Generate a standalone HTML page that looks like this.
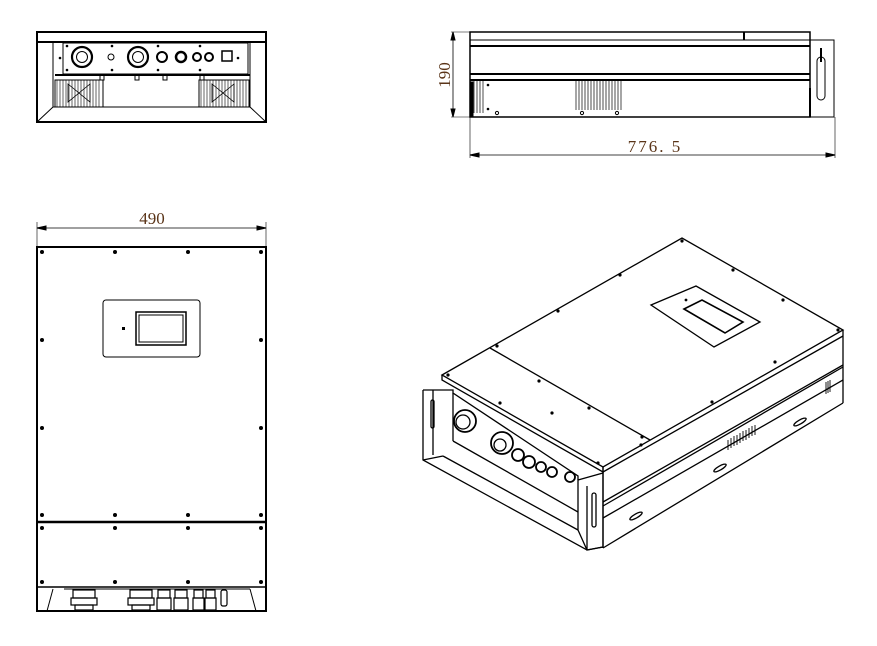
<!DOCTYPE html>
<html><head><style>html,body{margin:0;padding:0;background:#fff;width:877px;height:646px;overflow:hidden}</style></head>
<body>
<svg width="877" height="646" viewBox="0 0 877 646" xmlns="http://www.w3.org/2000/svg" fill="none" stroke="#000" stroke-width="1">
<!-- TOP-LEFT bottom view -->
<g>
<rect x="37" y="32" width="229" height="90" stroke-width="2"/>
<line x1="37" y1="42" x2="266" y2="42" stroke-width="2"/>
<line x1="53" y1="42" x2="53" y2="107"/><line x1="250" y1="42" x2="250" y2="107"/>
<line x1="37" y1="122" x2="53" y2="107"/><line x1="266" y1="122" x2="250" y2="107"/>
<line x1="53" y1="107" x2="250" y2="107"/>
<rect x="63" y="43" width="185" height="31"/>
<line x1="55" y1="75" x2="250" y2="75" stroke-width="2"/>
<circle cx="82" cy="57" r="10" stroke-width="2.2"/><circle cx="82" cy="57" r="5.5"/>
<circle cx="138" cy="57" r="10" stroke-width="2.2"/><circle cx="138" cy="57" r="5.5"/>
<circle cx="162" cy="57" r="5" stroke-width="2"/><circle cx="181" cy="57" r="5" stroke-width="2.5"/>
<circle cx="197" cy="57" r="4" stroke-width="2"/><circle cx="209" cy="57" r="4" stroke-width="2"/>
<rect x="222" y="51" width="10" height="10" stroke-width="1.5"/>
<circle cx="111" cy="57" r="3"/>
<g fill="#000" stroke="none"><circle cx="67" cy="46" r="1.3"/><circle cx="67" cy="70" r="1.3"/><circle cx="112" cy="46" r="1.3"/><circle cx="112" cy="70" r="1.3"/><circle cx="158" cy="46" r="1.3"/><circle cx="158" cy="70" r="1.3"/><circle cx="200" cy="46" r="1.3"/><circle cx="200" cy="70" r="1.3"/><circle cx="60" cy="58" r="1.3"/><circle cx="238" cy="58" r="1.3"/></g>
<rect x="55" y="80" width="48" height="27"/><rect x="199" y="80" width="50" height="27"/>
<g stroke-width="0.6">
<path d="M57 80v27M60 80v27M63 80v27M66 80v27M69 80v27M72 80v27M75 80v27M78 80v27M81 80v27M84 80v27M87 80v27M90 80v27M93 80v27M96 80v27M99 80v27"/>
<path d="M201 80v27M204 80v27M207 80v27M210 80v27M213 80v27M216 80v27M219 80v27M222 80v27M225 80v27M228 80v27M231 80v27M234 80v27M237 80v27M240 80v27M243 80v27M246 80v27"/>
</g>
<path d="M68 84 L79 93 L68 102 Z M90 84 L79 93 L90 102 Z" stroke-width="0.8"/>
<path d="M212 84 L223 93 L212 102 Z M234 84 L223 93 L234 102 Z" stroke-width="0.8"/>
<rect x="100" y="75" width="4" height="5"/><rect x="135" y="75" width="4" height="5"/><rect x="163" y="75" width="4" height="5"/><rect x="200" y="75" width="4" height="5"/>
</g>

<!-- SIDE view -->
<g>
<rect x="470" y="32" width="340" height="85" stroke-width="1.5"/>
<line x1="470" y1="40" x2="810" y2="40"/>
<line x1="470" y1="46" x2="810" y2="46" stroke-width="2"/>
<line x1="470" y1="74" x2="810" y2="74" stroke-width="2"/>
<line x1="470" y1="80" x2="810" y2="80" stroke-width="2"/>
<line x1="744" y1="32" x2="744" y2="40" stroke-width="2"/>
<line x1="810" y1="88" x2="810" y2="117" stroke-width="2"/>
<rect x="810" y="40" width="24" height="77"/>
<rect x="817" y="57" width="8" height="43" rx="4"/>
<line x1="821" y1="48" x2="821" y2="62" stroke-width="2"/>
<rect x="470" y="82" width="3" height="35" fill="#000"/>
<g stroke-width="0.7"><path d="M474 81v32M477 81v32M480 81v32M483 81v32"/><path d="M576 81v29M579 81v29M582 81v29M585 81v29M588 81v29M591 81v29M594 81v29M597 81v29M600 81v29M603 81v29M606 81v29M609 81v29M612 81v29M615 81v29M618 81v29M621 81v29"/></g>
<g fill="#000" stroke="none"><circle cx="488" cy="85" r="1.3"/><circle cx="488" cy="109" r="1.3"/></g>
<circle cx="497" cy="113" r="1.6"/><circle cx="582" cy="113" r="1.6"/><circle cx="617" cy="113" r="1.6"/>
<line x1="451" y1="32" x2="470" y2="32" stroke-width="0.6"/><line x1="451" y1="117" x2="470" y2="117" stroke-width="0.6"/>
<line x1="453" y1="32" x2="453" y2="117" stroke-width="0.8"/>
<path d="M453 32l-2 8h4zM453 117l-2-8h4z" fill="#000"/>
<text x="0" y="0" transform="translate(450,75) rotate(-90)" font-family="Liberation Serif, serif" font-size="17" fill="#5a3418" stroke="none" text-anchor="middle">190</text>
<line x1="470" y1="117" x2="470" y2="158" stroke-width="0.6"/><line x1="835" y1="117" x2="835" y2="158" stroke-width="0.6"/>
<line x1="470" y1="155" x2="835" y2="155" stroke-width="0.8"/>
<path d="M470 155l9-2v4zM835 155l-9-2v4z" fill="#000"/>
<text x="655" y="152" font-family="Liberation Serif, serif" font-size="17" letter-spacing="2" fill="#5a3418" stroke="none" text-anchor="middle">776. 5</text>
</g>

<!-- FRONT view -->
<g>
<line x1="37" y1="222" x2="37" y2="246" stroke-width="0.6"/><line x1="266" y1="222" x2="266" y2="246" stroke-width="0.6"/>
<line x1="37" y1="228" x2="266" y2="228" stroke-width="0.8"/>
<path d="M37 228l9-2v4zM266 228l-9-2v4z" fill="#000"/>
<text x="152" y="224" font-family="Liberation Serif, serif" font-size="17" fill="#5a3418" stroke="none" text-anchor="middle">490</text>
<rect x="37" y="247" width="229" height="364" stroke-width="2"/>
<line x1="37" y1="522" x2="266" y2="522" stroke-width="2.5"/>
<line x1="37" y1="587" x2="266" y2="587" stroke-width="1.5"/>
<line x1="64" y1="589" x2="250" y2="589"/>
<line x1="53" y1="589" x2="47" y2="611"/><line x1="250" y1="589" x2="256" y2="611"/>
<rect x="103" y="300" width="97" height="57" rx="3"/>
<rect x="136" y="312" width="50" height="33" stroke-width="1.5"/><rect x="139" y="315" width="44" height="27"/>
<rect x="122" y="327" width="3" height="3" fill="#000" stroke="none"/>
<g fill="#000" stroke="none">
<circle cx="42" cy="252" r="2"/><circle cx="115" cy="252" r="2"/><circle cx="188" cy="252" r="2"/><circle cx="261" cy="252" r="2"/>
<circle cx="42" cy="340" r="2"/><circle cx="261" cy="340" r="2"/>
<circle cx="42" cy="428" r="2"/><circle cx="261" cy="428" r="2"/>
<circle cx="42" cy="515" r="2"/><circle cx="115" cy="515" r="2"/><circle cx="188" cy="515" r="2"/><circle cx="261" cy="515" r="2"/>
<circle cx="42" cy="528" r="2"/><circle cx="115" cy="528" r="2"/><circle cx="188" cy="528" r="2"/><circle cx="261" cy="528" r="2"/>
<circle cx="42" cy="582" r="2"/><circle cx="115" cy="582" r="2"/><circle cx="188" cy="582" r="2"/><circle cx="261" cy="582" r="2"/>
</g>
<g stroke-width="1.2">
<rect x="73" y="590" width="22" height="8"/><rect x="71" y="598" width="26" height="7"/><rect x="75" y="605" width="18" height="5"/>
<rect x="130" y="590" width="22" height="8"/><rect x="128" y="598" width="26" height="7"/><rect x="132" y="605" width="18" height="5"/>
<rect x="158" y="590" width="12" height="8"/><rect x="157" y="598" width="14" height="12"/>
<rect x="175" y="590" width="12" height="8"/><rect x="174" y="598" width="14" height="12"/>
<rect x="194" y="590" width="9" height="8"/><rect x="193" y="598" width="11" height="12"/>
<rect x="206" y="590" width="9" height="8"/><rect x="205" y="598" width="11" height="12"/>
<rect x="221" y="590" width="6" height="16" rx="2"/>
</g>
</g>

<!-- ISOMETRIC view -->
<g stroke-width="1.3">
<path d="M442 375 L682 238 L843 330 L603 467 Z"/>
<path d="M442 375 L442 380 L603 472 L603 467"/>
<line x1="490" y1="348" x2="650" y2="440"/>
<line x1="603" y1="472" x2="843" y2="336"/>
<path d="M651 305 L696 286 L760 322 L714 347 Z"/>
<path d="M684 309 L702 300 L743 322 L725 333 Z" stroke-width="1.6"/>
<line x1="843" y1="330" x2="843" y2="403"/>
<line x1="843" y1="365" x2="603" y2="502"/>
<line x1="843" y1="367" x2="603" y2="506"/>
<line x1="603" y1="467" x2="603" y2="548"/>
<line x1="603" y1="548" x2="843" y2="403"/>
<line x1="603" y1="518" x2="843" y2="380"/>
<g stroke-width="0.9"><path d="M728 440v10M731 438v10M734 436v10M737 435v10M740 433v10M743 431v10M746 430v10M749 428v10M752 426v10M755 425v10"/>
<path d="M826 382v12M828 381v12M830 380v12"/></g>
<ellipse cx="720" cy="468" rx="7" ry="2" transform="rotate(-30 720 468)"/>
<ellipse cx="800" cy="422" rx="7" ry="2" transform="rotate(-30 800 422)"/>
<ellipse cx="636" cy="516" rx="7" ry="2" transform="rotate(-30 636 516)"/>
<path d="M423 390 L453 390 L453 393 L578 476 L578 480"/>
<path d="M423 390 L423 460 L587 550 L603 547"/>
<line x1="433" y1="390" x2="433" y2="455"/>
<line x1="423" y1="460" x2="443" y2="456"/>
<line x1="443" y1="456" x2="578" y2="530"/>
<line x1="453" y1="393" x2="453" y2="441"/>
<line x1="453" y1="441" x2="578" y2="512"/>
<rect x="431" y="400" width="3" height="28" rx="1.5"/>
<path d="M578 480 L603 473 L603 547 L587 550 L578 530 Z"/>
<line x1="587" y1="486" x2="587" y2="550"/>
<rect x="592" y="493" width="4" height="34" rx="2"/>
<circle cx="465" cy="421" r="11" stroke-width="1.8"/><circle cx="463" cy="422" r="7"/>
<circle cx="502" cy="443" r="11" stroke-width="1.8"/><circle cx="500" cy="445" r="6"/>
<circle cx="518" cy="455" r="6" stroke-width="1.8"/><circle cx="529" cy="462" r="6" stroke-width="1.8"/>
<circle cx="541" cy="467" r="5" stroke-width="1.8"/><circle cx="552" cy="472" r="5" stroke-width="1.8"/>
<circle cx="570" cy="477" r="5" stroke-width="1.8"/>
</g>
<g fill="#000" stroke="none">
<circle cx="682" cy="241" r="1.6"/><circle cx="620" cy="275" r="1.6"/><circle cx="558" cy="311" r="1.6"/><circle cx="497" cy="346" r="1.6"/><circle cx="448" cy="375" r="1.6"/>
<circle cx="733" cy="270" r="1.6"/><circle cx="783" cy="300" r="1.6"/><circle cx="838" cy="330" r="1.6"/>
<circle cx="539" cy="381" r="1.6"/><circle cx="589" cy="408" r="1.6"/><circle cx="642" cy="437" r="1.6"/>
<circle cx="500" cy="403" r="1.6"/><circle cx="552" cy="413" r="1.6"/><circle cx="598" cy="463" r="1.6"/>
<circle cx="775" cy="362" r="1.6"/><circle cx="712" cy="402" r="1.6"/><circle cx="641" cy="445" r="1.6"/>
<circle cx="686" cy="300" r="1.4"/>
</g>
</svg>
</body></html>
